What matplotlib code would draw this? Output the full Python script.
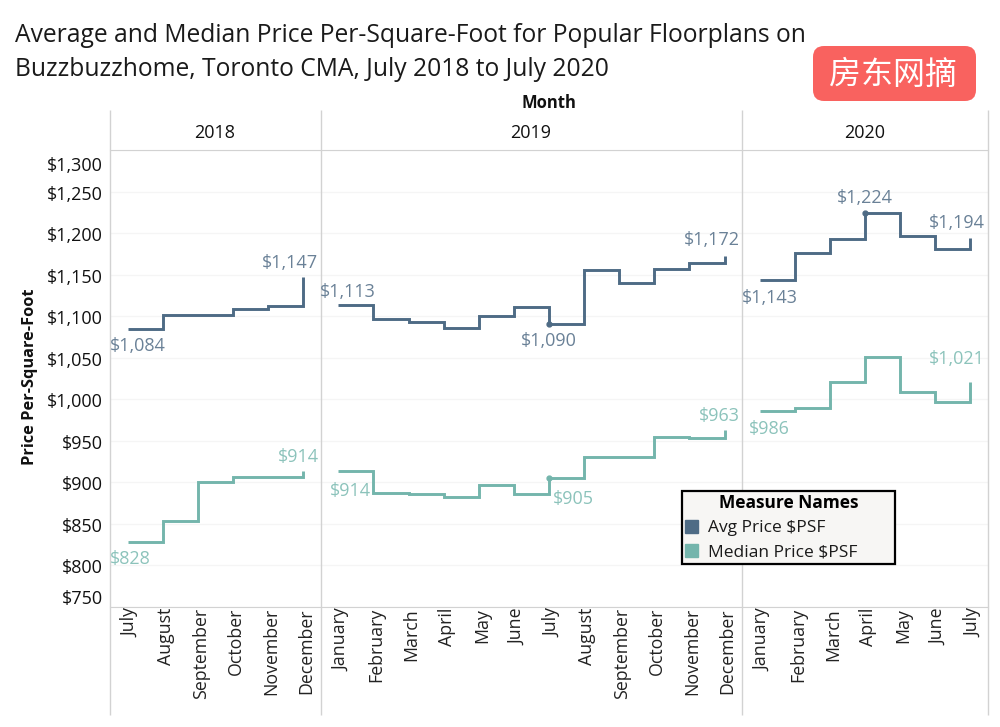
import numpy as np
import matplotlib
matplotlib.use('Agg')
import matplotlib.pyplot as plt
from matplotlib.patches import FancyBboxPatch, Patch
from matplotlib.transforms import IdentityTransform, ScaledTranslation

months_2018 = ['July', 'August', 'September', 'October', 'November', 'December']
months_2019 = ['January', 'February', 'March', 'April', 'May', 'June', 'July',
               'August', 'September', 'October', 'November', 'December']
months_2020 = ['January', 'February', 'March', 'April', 'May', 'June', 'July']

avg_2018 = [1084, 1101, 1101.5, 1109, 1112, 1147]
avg_2019 = [1113, 1097, 1093, 1086, 1100, 1111, 1090, 1156, 1140, 1156.5, 1164, 1172]
avg_2020 = [1143, 1176, 1193, 1224, 1197, 1181, 1194]

median_2018 = [828, 853, 900, 906.5, 906, 914]
median_2019 = [914, 886.5, 886, 882, 897, 885.6, 905, 930, 930, 954, 953.5, 963]
median_2020 = [986, 989, 1021, 1051, 1009, 996, 1021]

y_ticks = [750, 800, 850, 900, 950, 1000, 1050, 1100, 1150, 1200, 1250, 1300]

# value labels: month index -> (dx, dy) offset in pixels
avg_labels = {0: (10, -17), 5: (-13, 14), 6: (10, 13), 12: (0, -17), 17: (-13, 16),
              18: (10, -18), 21: (0, 15), 24: (-14, 15)}
median_labels = {0: (3, -17), 5: (-5, 14), 6: (12, -20), 12: (24, -21), 17: (-5, 14),
                 18: (10, -18), 24: (-14, 23)}

AVG_COLOR = '#4e6b85'
MEDIAN_COLOR = '#74b5ac'
AVG_TEXT = '#6a8197'
MEDIAN_TEXT = '#8cc3bb'
RULE = '#d2d2d2'
FONT = 'Open Sans'

plt.rcParams['font.family'] = [FONT, 'DejaVu Sans']

W, H = 1000, 727
fig = plt.figure(figsize=(W / 100, H / 100), dpi=100)

left, right, top, bottom = 110, 988, 150, 606.7
ax = fig.add_axes([left / W, 1 - bottom / H, (right - left) / W, (bottom - top) / H])

n_2018, n_2019, n_2020 = len(months_2018), len(months_2019), len(months_2020)
x = np.arange(n_2018 + n_2019 + n_2020)
splits = [(0, n_2018), (n_2018, n_2018 + n_2019), (n_2018 + n_2019, len(x))]
avg = np.array(avg_2018 + avg_2019 + avg_2020)
median = np.array(median_2018 + median_2019 + median_2020)


def draw_series(values, color, text_color, labels, dots):
    for a, b in splits:
        ax.step(x[a:b], values[a:b], where='post', color=color, lw=2.1,
                solid_joinstyle='miter', solid_capstyle='butt', zorder=3)
    ax.plot(x[dots], values[dots], 'o', ms=3.5, color=color, zorder=3)
    for i, (dx, dy) in labels.items():
        ax.annotate(f'${values[i]:,.0f}', (x[i], values[i]), xytext=(dx, dy),
                    textcoords='offset pixels', ha='center', va='center',
                    fontsize=13, color=text_color, zorder=4)


draw_series(avg, AVG_COLOR, AVG_TEXT, avg_labels, [12, 21])
draw_series(median, MEDIAN_COLOR, MEDIAN_TEXT, median_labels, [12])

ax.set_xlim(-0.5, len(x) - 0.5)
ax.set_ylim(750, 1300)

ax.set_xticks(x)
ax.set_xticklabels(months_2018 + months_2019 + months_2020, rotation=90, fontsize=12.8,
                   color='#222222', va='top', ha='center')
ax.set_yticks(y_ticks)
ax.set_yticklabels([f'${v:,}' for v in y_ticks], fontsize=13, color='#111111')
ax.tick_params(axis='both', length=0)
ax.tick_params(axis='x', pad=1)
ax.tick_params(axis='y', pad=5)

# month names sit a little right of the step corners
for lab in ax.get_xticklabels():
    lab.set_transform(lab.get_transform() + ScaledTranslation(3 / 100, 0, fig.dpi_scale_trans))

# end labels sit inside the axis range, like Tableau does
for lab, shift in zip(ax.get_yticklabels(), [11, 0, 0, 0, 0, 0, 0, 0, 0, 0, 0, -13]):
    lab.set_transform(lab.get_transform() + ScaledTranslation(0, (shift - 1) / 100, fig.dpi_scale_trans))

ax.grid(axis='y', color='#f5f5f5', lw=1)
ax.set_axisbelow(True)
for s in ['left', 'right']:
    ax.spines[s].set_visible(False)
ax.spines['top'].set_color(RULE)
ax.spines['bottom'].set_color(RULE)

# year dividers run through the header and the month labels
ymin = -(715 - bottom) / (bottom - top)
ymax = (bottom - 110) / (bottom - top)
dividers = [-0.5, n_2018 - 0.5, n_2018 + n_2019 - 0.5, len(x) - 0.5]
ax.vlines(dividers, ymin, ymax, transform=ax.get_xaxis_transform(), color=RULE, lw=1,
          clip_on=False, zorder=1)

fig.text(15 / W, 1 - 36 / H, 'Average and Median Price Per-Square-Foot for Popular Floorplans on',
         fontsize=17.7, color='#1a1a1a', va='center')
fig.text(15 / W, 1 - 70 / H, 'Buzzbuzzhome, Toronto CMA, July 2018 to July 2020',
         fontsize=17.7, color='#1a1a1a', va='center')

fig.text(549 / W, 1 - 103 / H, 'Month', fontsize=12, fontweight='bold', color='#111111',
         ha='center', va='center')
for label, px in zip(['2018', '2019', '2020'], [215, 531, 865]):
    fig.text(px / W, 1 - 133 / H, label, fontsize=13, color='#111111', ha='center', va='center')
fig.text(30 / W, 1 - 377 / H, 'Price Per-Square-Foot', fontsize=11.8, fontweight='bold',
         color='#111111', rotation=90, ha='center', va='center')

# red badge
fig.add_artist(FancyBboxPatch((813, H - 101), 163, 55, boxstyle='round,pad=0,rounding_size=11',
                              linewidth=0, facecolor='#f9625f',
                              transform=IdentityTransform()))
fig.text(893 / W, 1 - 75 / H, '房东网摘', fontsize=23, color='white', ha='center', va='center',
         family=['Noto Sans CJK SC', 'DejaVu Sans'])

handles = [Patch(color=AVG_COLOR, label='Avg Price $PSF'),
           Patch(color=MEDIAN_COLOR, label='Median Price $PSF')]
leg = ax.legend(handles=handles, title='Measure Names', loc='lower left', mode='expand',
                bbox_to_anchor=(682 / W, 1 - 564 / H, 213 / W, 74 / H), bbox_transform=fig.transFigure,
                fontsize=12.5, title_fontproperties={'weight': 'bold', 'size': 12.5},
                frameon=True, fancybox=False, framealpha=1, facecolor='#f7f6f4',
                edgecolor='black', handlelength=0.75, handleheight=0.75, handletextpad=0.55,
                labelspacing=0.45, borderpad=0.2, borderaxespad=0, labelcolor='#1a1a1a')
leg.get_frame().set_linewidth(1.6)
leg.set_zorder(5)

fig.savefig('out.png', dpi=100)
